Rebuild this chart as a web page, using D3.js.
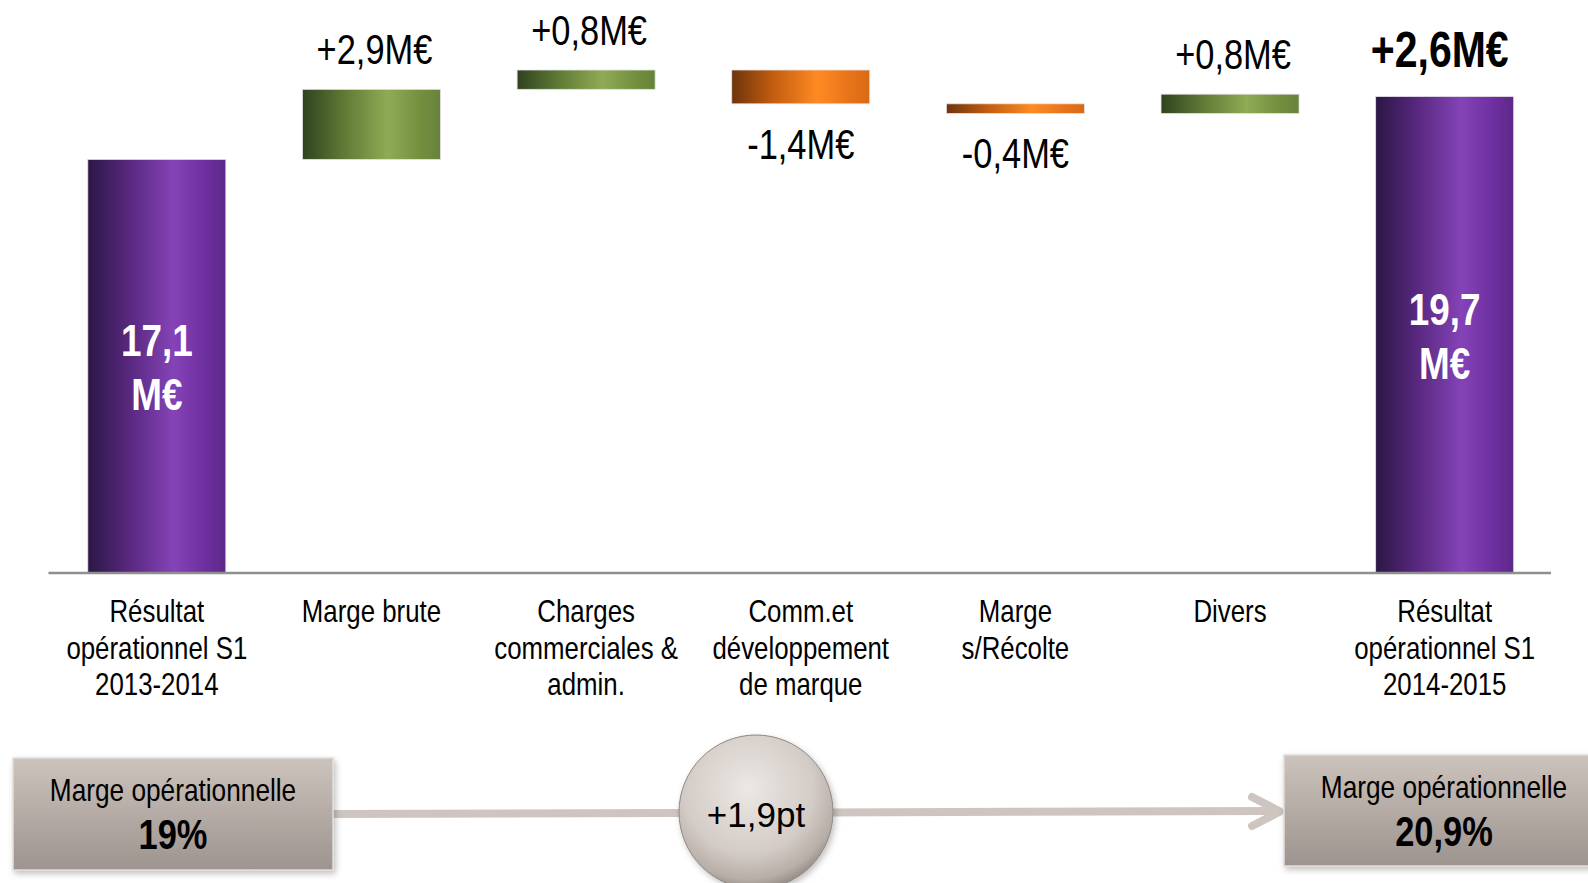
<!DOCTYPE html>
<html>
<head>
<meta charset="utf-8">
<script src="https://cdn.jsdelivr.net/npm/d3@7"></script>
<style>
  html, body { margin: 0; padding: 0; background: #fff; }
  svg { display: block; font-family: 'Liberation Sans', Arial, sans-serif; }
</style>
</head>
<body>
<svg id="canvas" width="1588" height="883"></svg>
<script>
// ---- data ----
var categories = [
  ['Résultat', 'opérationnel S1', '2013-2014'],
  ['Marge brute'],
  ['Charges', 'commerciales &', 'admin.'],
  ['Comm.et', 'développement', 'de marque'],
  ['Marge', 's/Récolte'],
  ['Divers'],
  ['Résultat', 'opérationnel S1', '2014-2015']
];
var values = [17.1, 2.9, 0.8, -1.4, -0.4, 0.8, 19.7];
var kinds = ['total', 'delta', 'delta', 'delta', 'delta', 'delta', 'total'];
var valueLabels = [['17,1', 'M€'], '+2,9M€', '+0,8M€', '-1,4M€', '-0,4M€', '+0,8M€', ['19,7', 'M€']];
var totalChange = '+2,6M€';
var marginLabel = 'Marge opérationnelle';
var marginStart = '19%', marginEnd = '20,9%', marginDelta = '+1,9pt';

// ---- waterfall steps ----
var run = 0;
var steps = values.map(function(v, i){
  var s;
  if (kinds[i] === 'total') { s = { lo: 0, hi: v }; run = v; }
  else { s = { lo: Math.min(run, run + v), hi: Math.max(run, run + v) }; run += v; }
  s.i = i; s.v = v; s.kind = kinds[i];
  return s;
});

var svg = d3.select('#canvas');
var defs = svg.append('defs');
var NARROW = 0.82; // squeeze Liberation Sans to look like Arial Narrow

function hGrad(id, stops){
  var g = defs.append('linearGradient').attr('id', id).attr('x1', '0%').attr('x2', '100%').attr('y1', '0%').attr('y2', '0%');
  stops.forEach(function(s){ g.append('stop').attr('offset', s[0]).attr('stop-color', s[1]); });
}
hGrad('g_purple', [[0, '#2c1745'], [0.3, '#58287f'], [0.62, '#8443b7'], [0.85, '#6e2f9f'], [1, '#5d2889']]);
hGrad('g_green', [[0, '#2f4220'], [0.3, '#5f7a35'], [0.62, '#90ab55'], [0.85, '#73903f'], [1, '#66833a']]);
hGrad('g_orange', [[0, '#6e340c'], [0.3, '#c25d10'], [0.62, '#ff8a22'], [0.85, '#e8741a'], [1, '#d86a14']]);

var boxGrad = defs.append('linearGradient').attr('id', 'g_box').attr('x1', '0%').attr('x2', '0%').attr('y1', '0%').attr('y2', '100%');
boxGrad.append('stop').attr('offset', 0).attr('stop-color', '#cdc3bd');
boxGrad.append('stop').attr('offset', 1).attr('stop-color', '#9d948f');

var ballGrad = defs.append('radialGradient').attr('id', 'g_ball').attr('cx', '45%').attr('cy', '35%').attr('r', '65%');
ballGrad.append('stop').attr('offset', 0).attr('stop-color', '#ece8e5');
ballGrad.append('stop').attr('offset', 0.65).attr('stop-color', '#d3cbc6');
ballGrad.append('stop').attr('offset', 0.9).attr('stop-color', '#b8aea8');
ballGrad.append('stop').attr('offset', 1).attr('stop-color', '#9a908a');

var shadow = defs.append('filter').attr('id', 'shadow').attr('x', '-10%').attr('y', '-10%').attr('width', '130%').attr('height', '130%');
shadow.append('feDropShadow').attr('dx', 2).attr('dy', 3).attr('stdDeviation', 3).attr('flood-color', '#000').attr('flood-opacity', 0.25);

function ntext(g, x, y, str, size, weight, fill){
  return g.append('text')
    .attr('transform', 'translate(' + x + ',' + y + ') scale(' + NARROW + ',1)')
    .attr('text-anchor', 'middle')
    .style('font-size', size + 'px')
    .style('font-weight', weight || 'normal')
    .style('fill', fill || '#000')
    .text(str);
}

// ---- scales ----
var xScale = d3.scaleBand().domain(d3.range(values.length)).range([49.5, 1552]).paddingInner(0.357).paddingOuter(0.1785);
var yScale = d3.scaleLinear().domain([0, d3.max(steps, function(d){ return d.hi; })]).range([572.5, 70]);

var chart = svg.append('g');

// bars
chart.selectAll('rect.bar').data(steps).enter().append('rect')
  .attr('class', 'bar')
  .attr('x', function(d){ return xScale(d.i); })
  .attr('y', function(d){ return yScale(d.hi); })
  .attr('width', xScale.bandwidth())
  .attr('height', function(d){ return yScale(d.lo) - yScale(d.hi); })
  .attr('fill', function(d){ return d.kind === 'total' ? 'url(#g_purple)' : (d.v >= 0 ? 'url(#g_green)' : 'url(#g_orange)'); })
  .attr('stroke', '#e4e0e8').attr('stroke-width', 0.8);

// axis line
chart.append('line')
  .attr('x1', 48.5).attr('x2', 1551)
  .attr('y1', yScale(0) + 0.5).attr('y2', yScale(0) + 0.5)
  .attr('stroke', '#8f8f8f').attr('stroke-width', 2.5);

// value labels
steps.forEach(function(d){
  var cx = xScale(d.i) + xScale.bandwidth() / 2;
  var lab = valueLabels[d.i];
  if (d.kind === 'total') {
    var mid = (yScale(d.lo) + yScale(d.hi)) / 2;
    ntext(chart, cx, mid - 10, lab[0], 45, 'bold', '#fff');
    ntext(chart, cx, mid + 44, lab[1], 45, 'bold', '#fff');
  } else if (d.v >= 0) {
    ntext(chart, cx + 3, yScale(d.hi) - 25, lab, 42);
  } else {
    ntext(chart, cx, yScale(d.lo) + 55, lab, 42);
  }
});

// total change label above last bar
var last = steps[steps.length - 1];
ntext(chart, xScale(last.i) + xScale.bandwidth() / 2 - 5, yScale(last.hi) - 30, totalChange, 50, 'bold');

// category labels
categories.forEach(function(lines, i){
  var cx = xScale(i) + xScale.bandwidth() / 2;
  lines.forEach(function(l, k){
    ntext(chart, cx, 622 + k * 36.5, l, 31.5);
  });
});

// ---- bottom: operating margin ----
var bottom = svg.append('g');
var lineCol = '#cec5c0';

bottom.append('line')
  .attr('x1', 330).attr('y1', 814).attr('x2', 1280).attr('y2', 811)
  .attr('stroke', lineCol).attr('stroke-width', 8);
bottom.append('polyline')
  .attr('points', '1252,797 1280,811.5 1252,826')
  .attr('fill', 'none').attr('stroke', lineCol).attr('stroke-width', 8)
  .attr('stroke-linecap', 'round').attr('stroke-linejoin', 'round');

bottom.append('rect').attr('x', 13).attr('y', 758).attr('width', 320).attr('height', 112)
  .attr('fill', 'url(#g_box)').attr('stroke', '#e2dcd8').attr('stroke-width', 1.5).attr('filter', 'url(#shadow)');
bottom.append('rect').attr('x', 1284).attr('y', 755).attr('width', 320).attr('height', 111)
  .attr('fill', 'url(#g_box)').attr('stroke', '#e2dcd8').attr('stroke-width', 1.5).attr('filter', 'url(#shadow)');

ntext(bottom, 173, 801, marginLabel, 32);
ntext(bottom, 173, 849, marginStart, 42, 'bold');
ntext(bottom, 1444, 798, marginLabel, 32);
ntext(bottom, 1444, 846, marginEnd, 42, 'bold');

bottom.append('circle').attr('cx', 756).attr('cy', 812).attr('r', 77)
  .attr('fill', 'url(#g_ball)').attr('stroke', '#8f8680').attr('stroke-width', 1).attr('filter', 'url(#shadow)');
bottom.append('text').attr('x', 756).attr('y', 826.5).attr('text-anchor', 'middle')
  .style('font-size', '35px').style('fill', '#000').text(marginDelta);
</script>
</body>
</html>
